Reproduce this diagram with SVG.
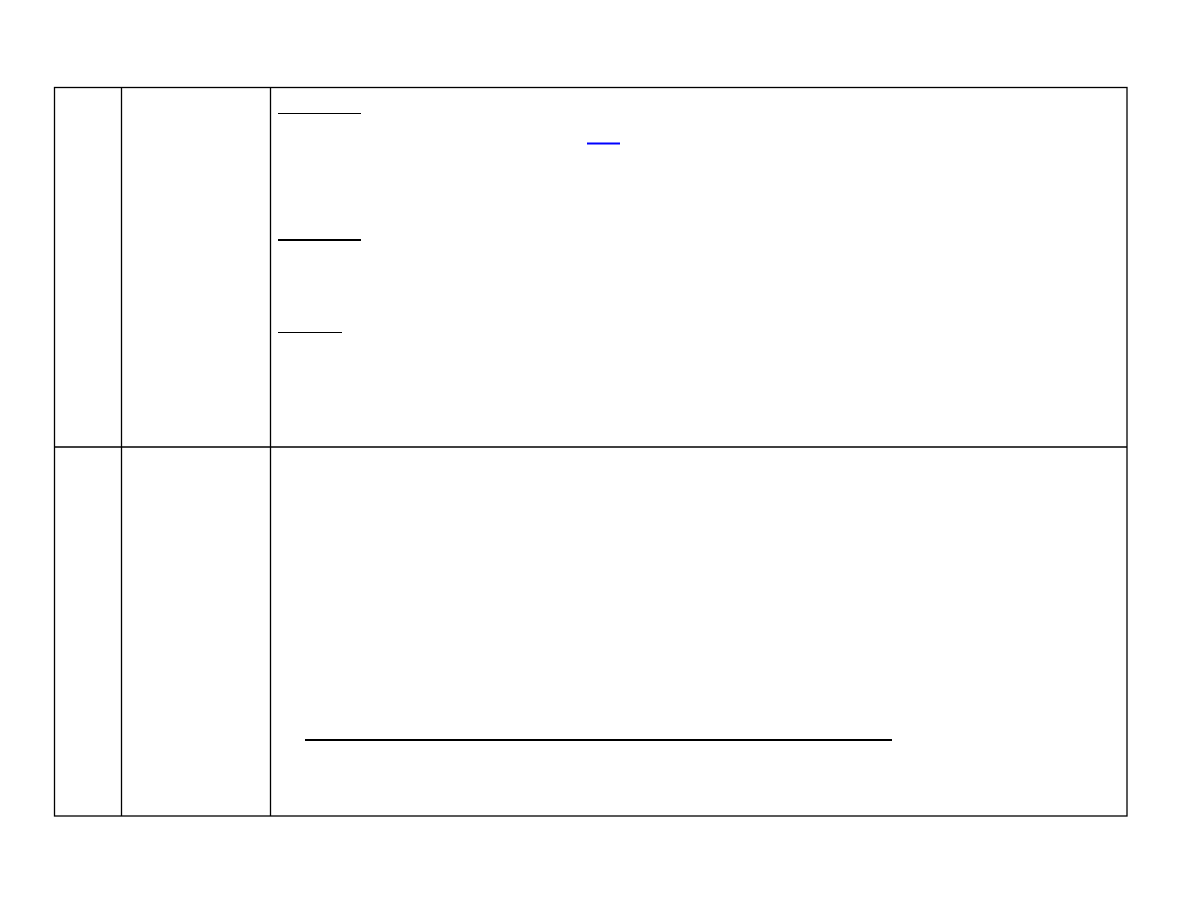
<svg xmlns="http://www.w3.org/2000/svg" width="1188" height="918" viewBox="0 0 1188 918">
<style>
.grid{stroke:#000;stroke-width:1.3;fill:none}
.ul{stroke:#000;stroke-width:1.2}
.ulb{stroke:#000;stroke-width:2}
.link{stroke:#0000ff;stroke-width:2}
</style>
<rect width="1188" height="918" fill="#fff"/>
<g id="table" class="grid">
<rect x="54.5" y="87.5" width="1072.5" height="728.5"/>
<line x1="121.5" y1="87.5" x2="121.5" y2="816"/>
<line x1="270.5" y1="87.5" x2="270.5" y2="816"/>
<line x1="54.5" y1="447" x2="1127" y2="447"/>
</g>
<g id="underlines">
<line class="ul" x1="278" y1="113.5" x2="361" y2="113.5"/>
<line class="link" x1="587" y1="143.5" x2="620" y2="143.5"/>
<line class="ulb" x1="278" y1="240" x2="361" y2="240"/>
<line class="ul" x1="278" y1="332.5" x2="342" y2="332.5"/>
<line class="ulb" x1="305" y1="740" x2="892" y2="740"/>
</g>
</svg>
